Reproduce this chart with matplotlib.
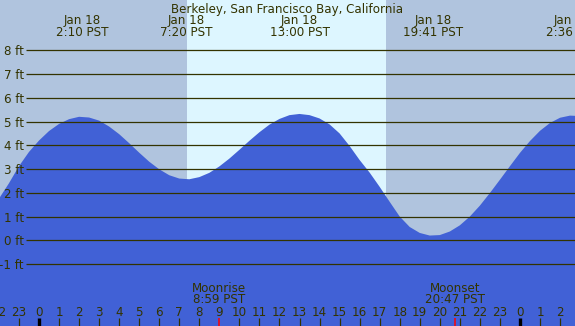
import numpy as np
import matplotlib.pyplot as plt

# tide heights (ft) every half hour, Jan 18 local time
hours = np.arange(-2.0, 27.01, 0.5)
heights = [1.75, 2.40, 3.12, 3.72, 4.20, 4.60, 4.90, 5.10, 5.20, 5.17,
           5.04, 4.79, 4.47, 4.09, 3.69, 3.31, 2.99, 2.74, 2.60, 2.57,
           2.66, 2.84, 3.11, 3.44, 3.81, 4.19, 4.55, 4.87, 5.11, 5.27,
           5.32, 5.27, 5.13, 4.88, 4.50, 3.97, 3.38, 2.85, 2.25, 1.62,
           1.00, 0.56, 0.31, 0.20, 0.22, 0.37, 0.63, 1.00, 1.46, 1.99,
           2.55, 3.12, 3.68, 4.18, 4.61, 4.94, 5.16, 5.25, 5.23]

# high / low tide annotations
extreme_hours = [2.167, 7.333, 13.0, 19.683, 26.6]
extreme_labels = ["2:10 PST", "7:20 PST", "13:00 PST", "19:41 PST", "2:36 PST"]
extreme_days = ["Jan 18", "Jan 18", "Jan 18", "Jan 18", "Jan 18"]

sunrise, sunset = 7.39, 17.32
moon_hours = [8.983, 20.783]
moon_names = ["Moonrise", "Moonset"]
moon_times = ["8:59 PST", "20:47 PST"]

levels = [-1, 0, 1, 2, 3, 4, 5, 6, 7, 8]
tick_hours = np.arange(-2, 27)

title = "Berkeley, San Francisco Bay, California"

W, H = 575, 326
NIGHT = "#b0c4de"
DAY = "#ddf6ff"
WATER = "#4161d6"
INK = "#333300"

# pixel mapping: x = 39 + 20.04*h, y = 240.3 - 23.75*ft
x0, x1 = -39 / 20.04, (W - 39) / 20.04
y0, y1 = (240.3 - H) / 23.75, 240.3 / 23.75


def fy(py):
    """pixel row from top -> axes fraction"""
    return 1 - py / H


fig = plt.figure(figsize=(W / 100, H / 100), dpi=100, facecolor=NIGHT)
ax = fig.add_axes([0, 0, 1, 1])
ax.set_axis_off()
ax.set_xlim(x0, x1)
ax.set_ylim(y0, y1)

ax.axvspan(sunrise, sunset, color=DAY, lw=0, zorder=0)
ax.fill_between(hours, y0, heights, color=WATER, lw=0, zorder=1)

# level lines and labels
gx = (26 - 39) / 20.04
ax.hlines(levels, gx, x1, color=INK, lw=0.9, zorder=2)
for lv in levels:
    ax.text((24 - 39) / 20.04, lv, f"{lv} ft", ha="right", va="center_baseline",
            fontsize=8.6, color=INK, zorder=3)

xt = ax.get_xaxis_transform()
fs = 8.6

fig.text(0.5, fy(12.7), title, ha="center", va="baseline", fontsize=fs, color=INK)
for h, d, t in zip(extreme_hours, extreme_days, extreme_labels):
    ax.text(h, fy(24), d, transform=xt, ha="center", va="baseline", fontsize=fs, color=INK)
    ax.text(h, fy(36), t, transform=xt, ha="center", va="baseline", fontsize=fs, color=INK)

# hour ticks along the bottom
for h in tick_hours:
    ax.text(h, fy(315.7), str(int(h) % 24), transform=xt, ha="center", va="baseline",
            fontsize=fs, color=INK, zorder=3)
    if h % 24 == 0:
        ax.vlines(h, 0, fy(317.7), transform=xt, color="black", lw=2.4, zorder=3)
    elif abs(h - moon_hours[0]) > 0.1:
        ax.vlines(h, 0, fy(317.7), transform=xt, color=INK, lw=0.9, zorder=3)

for h, n, t in zip(moon_hours, moon_names, moon_times):
    ax.vlines(h, 0, fy(317.7), transform=xt, color="red", lw=1.1, zorder=4)
    ax.text(h, fy(291.7), n, transform=xt, ha="center", va="baseline", fontsize=fs, color=INK)
    ax.text(h, fy(303.3), t, transform=xt, ha="center", va="baseline", fontsize=fs, color=INK)

fig.savefig("out.png", dpi=100, facecolor=NIGHT)
